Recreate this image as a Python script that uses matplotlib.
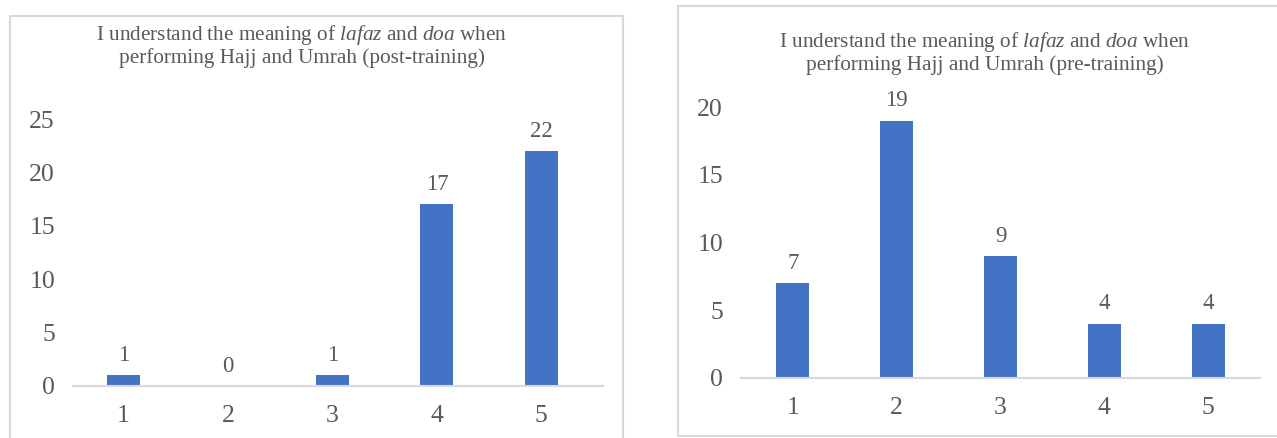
import matplotlib.pyplot as plt
from matplotlib.patches import Rectangle

kategorien = ["1", "2", "3", "4", "5"]
post_werte = [1, 0, 1, 17, 22]
pre_werte = [7, 19, 9, 4, 4]

titel_post = "I understand the meaning of $\\it{lafaz}$ and $\\it{doa}$ when\nperforming Hajj and Umrah (post-training)"
titel_pre = "I understand the meaning of $\\it{lafaz}$ and $\\it{doa}$ when\nperforming Hajj and Umrah (pre-training)"

plt.rcParams['font.family'] = ['Liberation Serif', 'DejaVu Serif']
plt.rcParams['mathtext.fontset'] = 'custom'
plt.rcParams['mathtext.it'] = 'Liberation Serif:italic'
plt.rcParams['mathtext.rm'] = 'Liberation Serif'

blau = "#4472C4"
grau = "#595959"
linie = "#D9D9D9"

W, H = 1277, 438
fig = plt.figure(figsize=(W / 100, H / 100), dpi=100)


def px(x0, y0, x1, y1):
    # pixel box -> figure fraction
    return [x0 / W, 1 - y1 / H, (x1 - x0) / W, (y1 - y0) / H]


# rahmen
fig.patches.append(Rectangle((10 / W, -0.05), (623 - 10) / W, 1 - 16 / H + 0.05,
                             transform=fig.transFigure, fill=False, ec=linie, lw=1.5))
fig.patches.append(Rectangle((678 / W, 1 - 436 / H), 0.5, (436 - 6) / H,
                             transform=fig.transFigure, fill=False, ec=linie, lw=1.5))


def zeichne(ax, werte, ymax, schritt, xlim, titel, tx, ty):
    x = range(1, len(werte) + 1)
    ax.bar(x, werte, width=0.317, color=blau, zorder=2)
    for xi, v in zip(x, werte):
        ax.text(xi, v + ymax * 0.035, str(v), ha="center", va="bottom",
                fontsize=16.5, color=grau)
    ax.set_xlim(*xlim)
    ax.set_ylim(0, ymax)
    ax.set_yticks(range(0, ymax + 1, schritt))
    ax.set_xticks(list(x))
    ax.set_xticklabels(kategorien)
    for s in ["top", "right", "left"]:
        ax.spines[s].set_visible(False)
    ax.spines["bottom"].set_color(linie)
    ax.spines["bottom"].set_linewidth(1.5)
    ax.tick_params(length=0, labelsize=18.5, colors=grau)
    ax.tick_params(axis="y", pad=13)
    ax.tick_params(axis="x", pad=14)
    ax.patch.set_alpha(0)
    fig.text(tx / W, 1 - ty / H, titel, ha="center", va="top", fontsize=15.3,
             color=grau, linespacing=1.1)


ax1 = fig.add_axes(px(73, 119, 603, 386))
zeichne(ax1, post_werte, 25, 5, (0.516, 5.59), titel_post, 302, 23)

ax2 = fig.add_axes(px(741, 107, 1260, 378))
zeichne(ax2, pre_werte, 20, 5, (0.5, 5.5), titel_pre, 985, 30)

fig.savefig("out.png", dpi=100)
